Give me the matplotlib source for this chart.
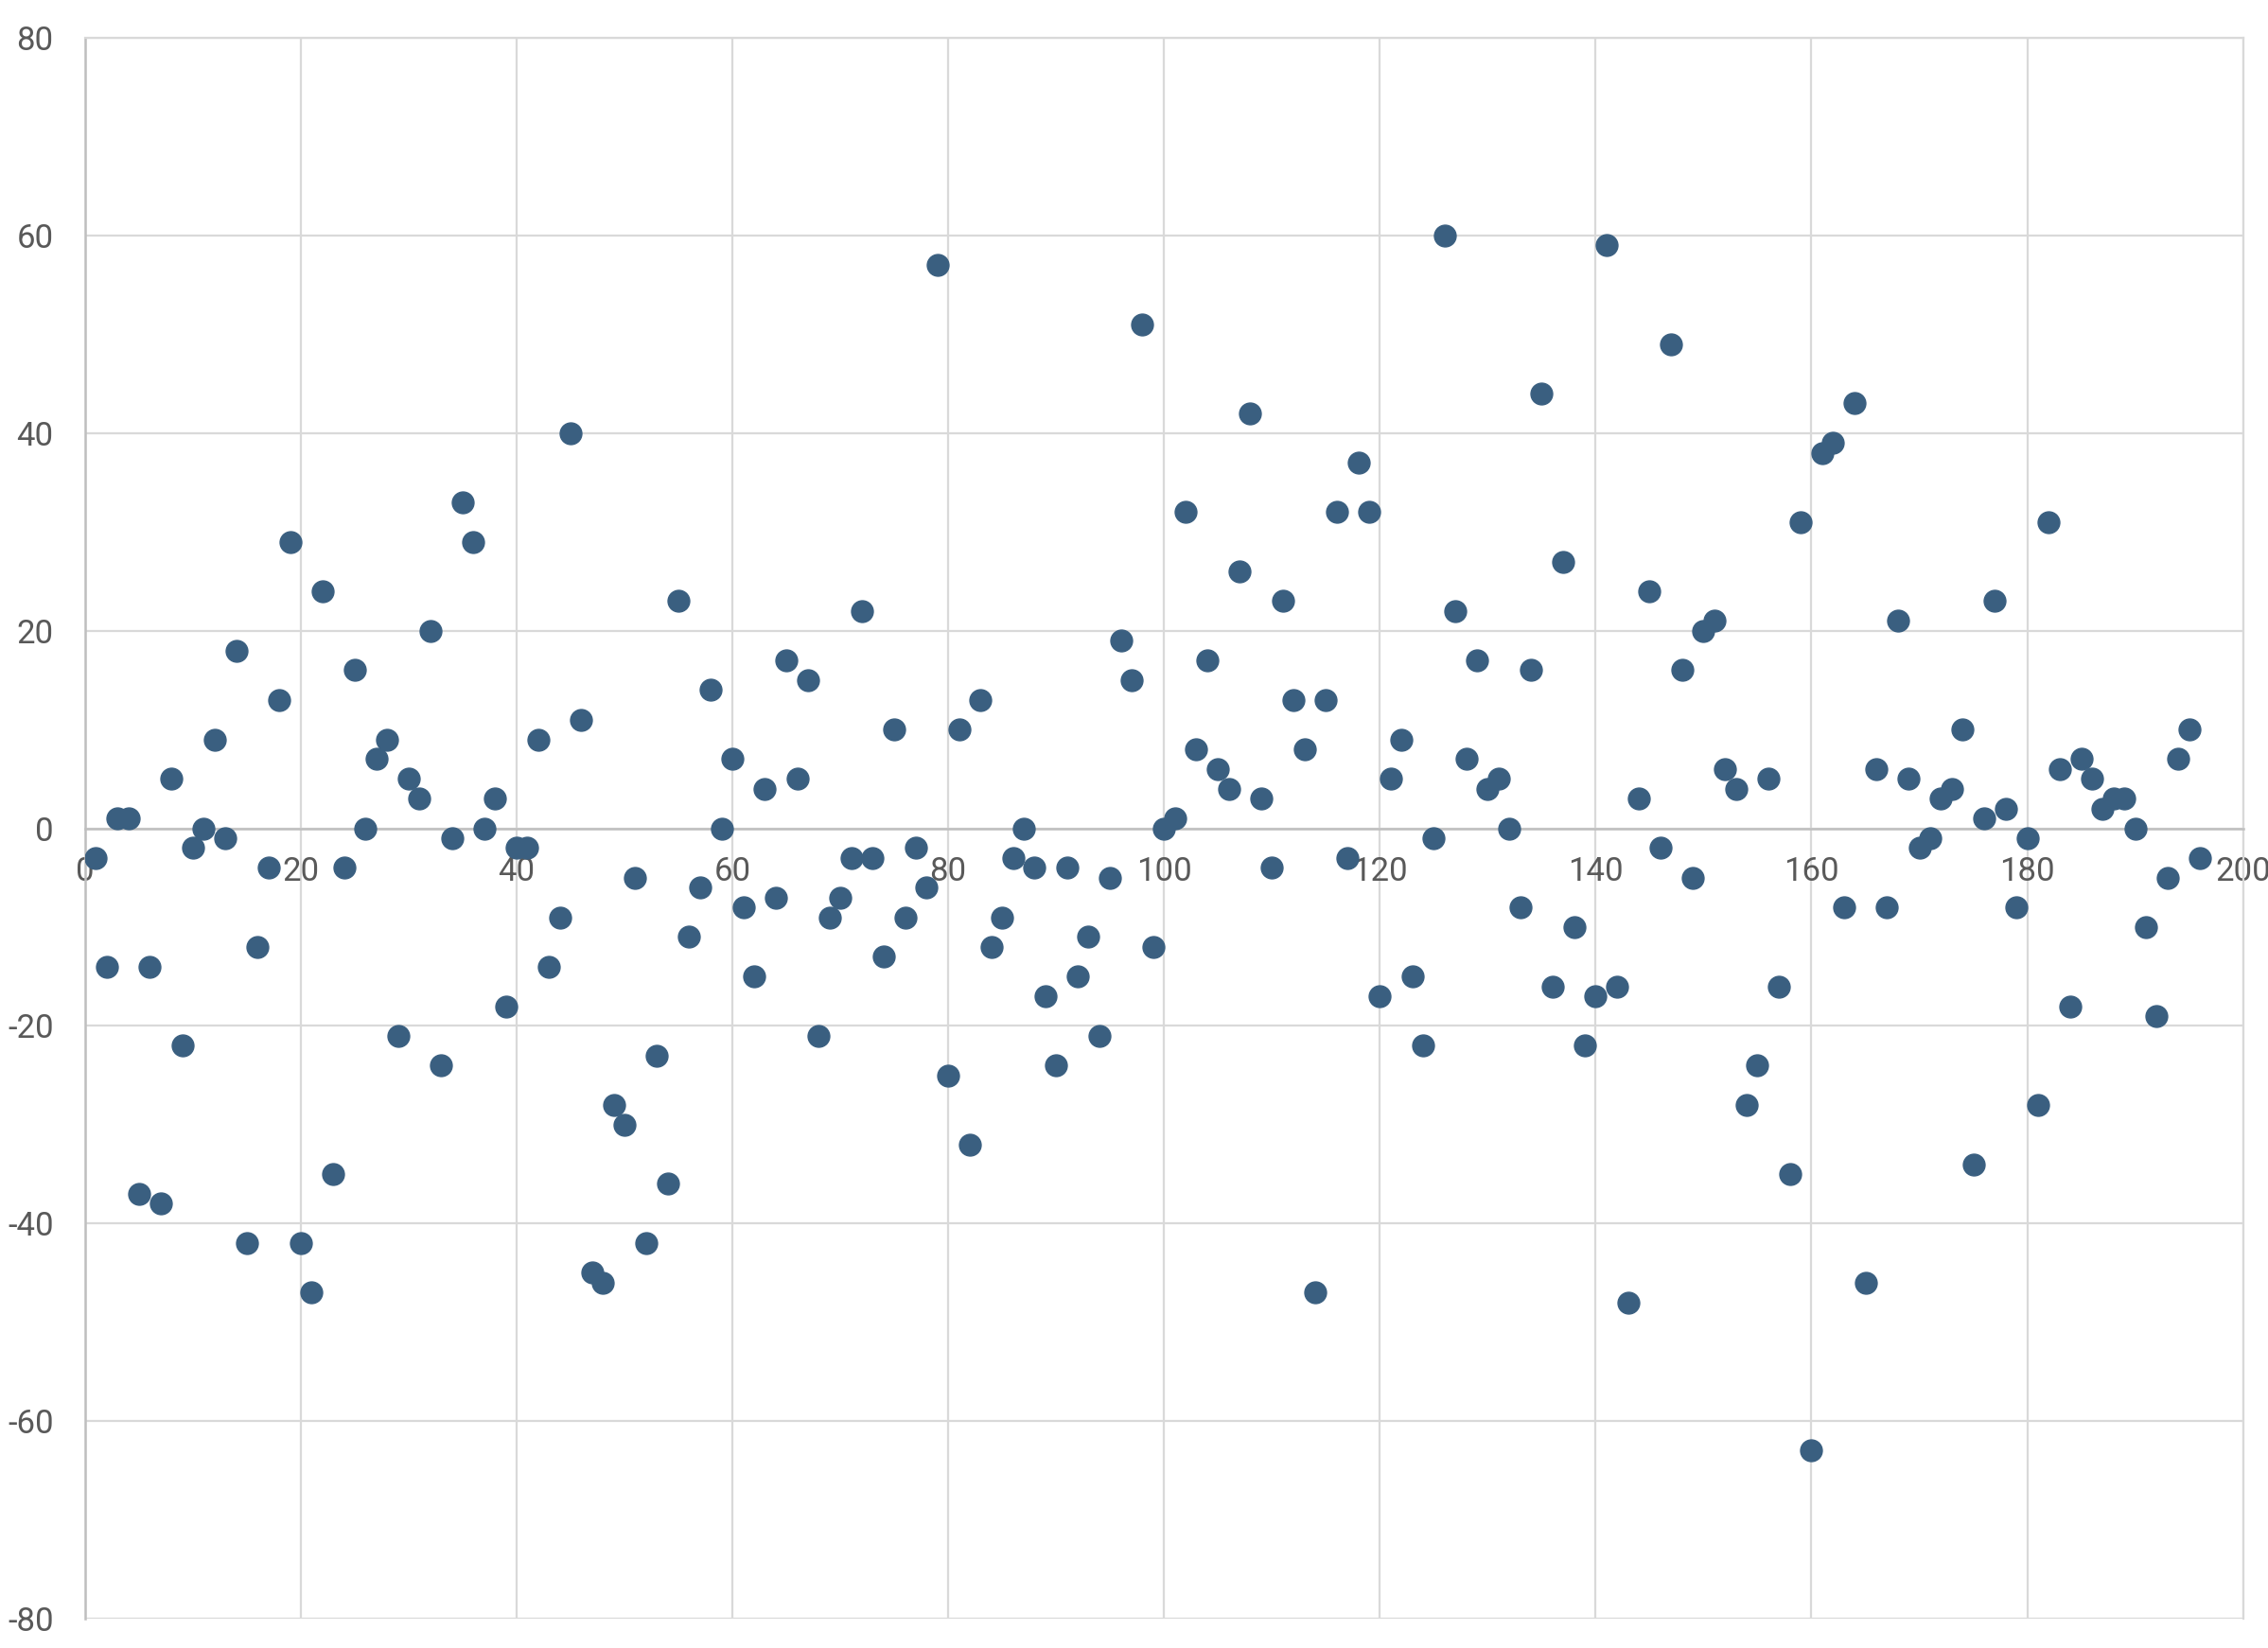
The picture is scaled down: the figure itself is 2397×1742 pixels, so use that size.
import matplotlib
matplotlib.use("Agg")
import matplotlib.pyplot as plt
import numpy as np

plt.rcParams['font.family'] = ['Roboto', 'DejaVu Sans']

x_values = list(range(1, 197))
y_values = [
    -3, -14, 1, 1, -37, -14, -38, 5, -22, -2,
    0, 9, -1, 18, -42, -12, -4, 13, 29, -42,
    -47, 24, -35, -4, 16, 0, 7, 9, -21, 5,
    3, 20, -24, -1, 33, 29, 0, 3, -18, -2,
    -2, 9, -14, -9, 40, 11, -45, -46, -28, -30,
    -5, -42, -23, -36, 23, -11, -6, 14, 0, 7,
    -8, -15, 4, -7, 17, 5, 15, -21, -9, -7,
    -3, 22, -3, -13, 10, -9, -2, -6, 57, -25,
    10, -32, 13, -12, -9, -3, 0, -4, -17, -24,
    -4, -15, -11, -21, -5, 19, 15, 51, -12, 0,
    1, 32, 8, 17, 6, 4, 26, 42, 3, -4,
    23, 13, 8, -47, 13, 32, -3, 37, 32, -17,
    5, 9, -15, -22, -1, 60, 22, 7, 17, 4,
    5, 0, -8, 16, 44, -16, 27, -10, -22, -17,
    59, -16, -48, 3, 24, -2, 49, 16, -5, 20,
    21, 6, 4, -28, -24, 5, -16, -35, 31, -63,
    38, 39, -8, 43, -46, 6, -8, 21, 5, -2,
    -1, 3, 4, 10, -34, 1, 23, 2, -8, -1,
    -28, 31, 6, -18, 7, 5, 2, 3, 3, 0,
    -10, -19, -5, 7, 10, -3,
]
x_ticks = [0, 20, 40, 60, 80, 100, 120, 140, 160, 180, 200]
y_ticks = [-80, -60, -40, -20, 0, 20, 40, 60, 80]

fig = plt.figure(figsize=(23.97, 17.42), dpi=100)
ax = fig.add_axes([0.0375, 0.0178, 0.9515, 0.9592])

ax.plot(x_values, y_values, linestyle="none", marker="o", markersize=16.5,
        color="#3a5f80", zorder=3)

ax.set_xlim(0, 200)
ax.set_ylim(-80, 80)
ax.set_xticks(x_ticks)
ax.set_yticks(y_ticks)
ax.set_xticklabels([str(t) for t in x_ticks])
ax.set_yticklabels([str(t) for t in y_ticks])

ax.grid(True, color="#d9d9d9", linewidth=1.6, zorder=0)
ax.set_axisbelow(True)

for side in ["top", "right"]:
    ax.spines[side].set_color("#d9d9d9")
    ax.spines[side].set_linewidth(1.6)
ax.spines["left"].set_color("#bfbfbf")
ax.spines["left"].set_linewidth(1.8)
ax.spines["bottom"].set_position(("data", 0))
ax.spines["bottom"].set_color("#bfbfbf")
ax.spines["bottom"].set_linewidth(1.8)

ax.tick_params(axis="both", length=0, labelsize=25, labelcolor="#595959")
ax.tick_params(axis="x", pad=21)
ax.tick_params(axis="y", pad=24)

fig.savefig("out.png", dpi=100, facecolor="white")
